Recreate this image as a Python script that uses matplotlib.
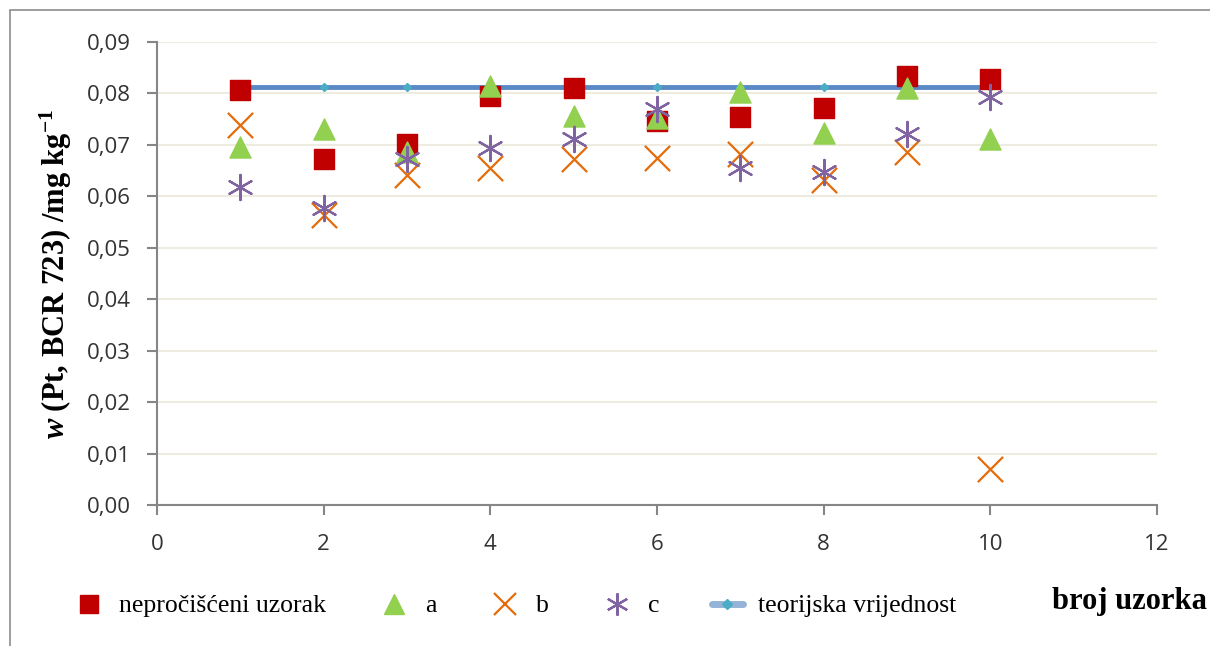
import matplotlib.pyplot as plt
from matplotlib.lines import Line2D
from matplotlib.patches import Rectangle

plt.rcParams['mathtext.fontset'] = 'custom'
plt.rcParams['mathtext.it'] = 'Liberation Serif:italic:bold'
plt.rcParams['mathtext.rm'] = 'Liberation Serif:bold'
plt.rcParams['mathtext.bf'] = 'Liberation Serif:bold'

uzorak = [1, 2, 3, 4, 5, 6, 7, 8, 9, 10]
neprocisceni = [0.0806, 0.0672, 0.0702, 0.0795, 0.0811, 0.0747, 0.0754, 0.0772, 0.0834, 0.0828]
a = [0.0695, 0.0730, 0.0687, 0.0815, 0.0756, 0.0752, 0.0802, 0.0724, 0.0810, 0.0711]
b = [0.0739, 0.0564, 0.0642, 0.0655, 0.0673, 0.0675, 0.0682, 0.0632, 0.0686, 0.0070]
c = [0.0619, 0.0578, 0.0672, 0.0693, 0.0712, 0.0769, 0.0655, 0.0648, 0.0721, 0.0794]
teorijska = [0.0813] * 10

yticks = [0.00, 0.01, 0.02, 0.03, 0.04, 0.05, 0.06, 0.07, 0.08, 0.09]
xticks = [0, 2, 4, 6, 8, 10, 12]

fig = plt.figure(figsize=(12.1, 6.46), dpi=100)
ax = fig.add_axes([157 / 1210, 1 - 505 / 646, 1000 / 1210, 463 / 646])

# outer chart border
fig.patches.append(Rectangle((10 / 1210, -0.1), 1.2, 1 - 10 / 646 + 0.1,
                             transform=fig.transFigure, fill=False,
                             edgecolor='#8c8c8c', linewidth=1.2))

ax.plot(uzorak, teorijska, color='#5a8ac6', linewidth=3.5, marker='D',
        markersize=4, markerfacecolor='#4bacc6', markeredgecolor='#4bacc6',
        zorder=2)
ax.scatter(uzorak, neprocisceni, marker='s', s=190, color='#c00000', zorder=3)
ax.scatter(uzorak, a, marker='^', s=230, color='#92d050', zorder=4)
ax.scatter(uzorak, b, marker='x', s=330, color='#e46c0a', linewidths=1.6, zorder=5)
ax.scatter(uzorak, c, marker=(6, 2, 0), s=330, color='#8064a2', linewidths=1.6, zorder=6)

ax.set_xlim(0, 12)
ax.set_ylim(0, 0.09)
ax.set_xticks(xticks)
ax.set_yticks(yticks)
ax.set_yticklabels([('%.2f' % v).replace('.', ',') for v in yticks])
ax.grid(axis='y', color='#eeece1', linewidth=1.5)
ax.set_axisbelow(True)
for s in ['top', 'right']:
    ax.spines[s].set_visible(False)
for s in ['left', 'bottom']:
    ax.spines[s].set_color('#868686')
    ax.spines[s].set_linewidth(1.5)
ax.tick_params(axis='both', colors='#868686', length=7, width=1.5,
               labelcolor='#333333', labelsize=16)
ax.tick_params(axis='x', pad=14)
ax.tick_params(axis='y', pad=12)
for lab in ax.get_xticklabels() + ax.get_yticklabels():
    lab.set_family('Open Sans')

ax.set_ylabel(r'$\mathit{w}$ (Pt, BCR 723) /mg kg$^{\mathbf{-1}}$',
              family='Liberation Serif', fontweight='bold', fontsize=22,
              labelpad=9)

fig.text(1207 / 1210, 1 - 601 / 646, 'broj uzorka', ha='right', va='center',
         family='Liberation Serif', fontweight='bold', fontsize=22)

handles = [
    Line2D([], [], linestyle='none', marker='s', markersize=13, color='#c00000'),
    Line2D([], [], linestyle='none', marker='^', markersize=14, color='#92d050'),
    Line2D([], [], linestyle='none', marker='x', markersize=16, color='#e46c0a', markeredgewidth=1.6),
    Line2D([], [], linestyle='none', marker=(6, 2, 0), markersize=16, color='#8064a2', markeredgewidth=1.6),
    Line2D([], [], color='#95b3d7', linewidth=5, solid_capstyle='round', marker='D',
           markersize=5, markerfacecolor='#4bacc6', markeredgecolor='#4bacc6'),
]
labels = ['nepročišćeni uzorak', 'a', 'b', 'c', 'teorijska vrijednost']
fig.legend(handles, labels, loc='center left', bbox_to_anchor=(50 / 1210, 1 - 606 / 646),
           ncol=5, frameon=False, prop={'family': 'Liberation Serif', 'size': 18.5},
           handlelength=1.2, handletextpad=0.6, columnspacing=2.05)

fig.savefig('out.png', dpi=100)
